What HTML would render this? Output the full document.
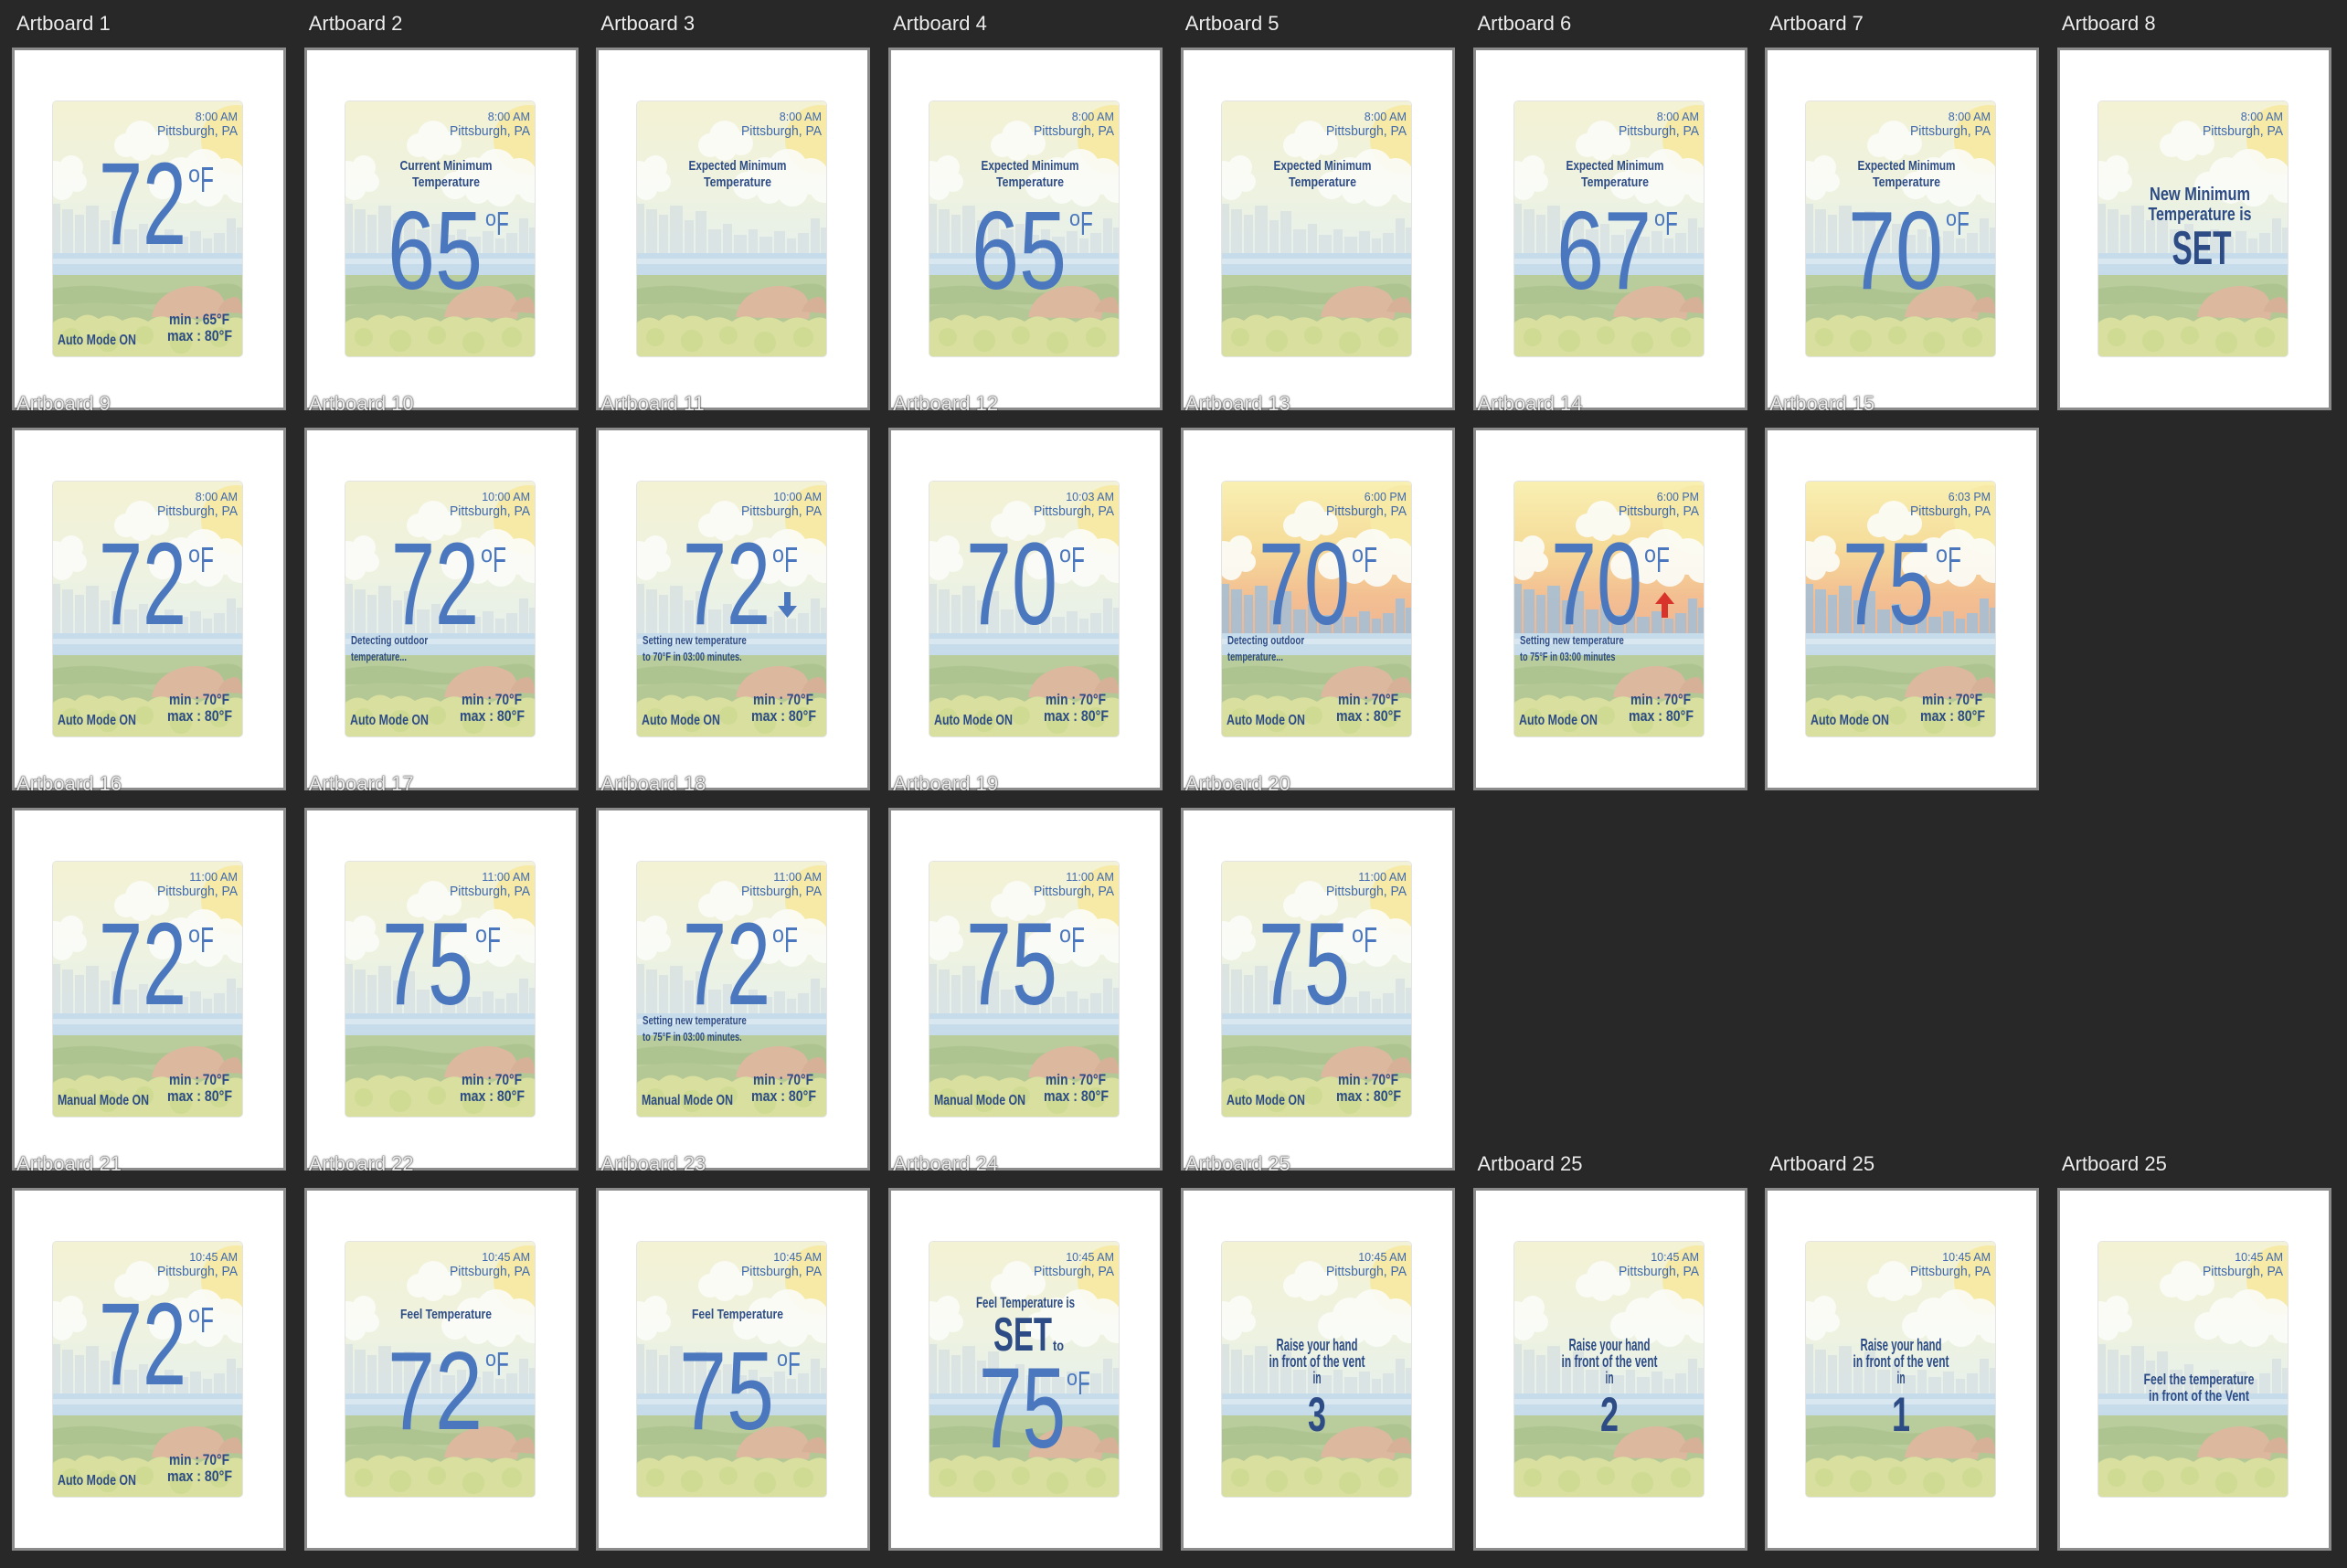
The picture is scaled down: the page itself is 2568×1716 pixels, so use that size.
<!DOCTYPE html>
<html><head><meta charset="utf-8">
<style>
html,body{margin:0;padding:0;}
body{width:2568px;height:1716px;background:#282828;position:relative;overflow:hidden;font-family:"Liberation Sans",sans-serif;}
.box{position:absolute;width:294px;height:391px;border:3px solid #8b8b8b;background:#fff;}
.lbl{position:absolute;font-size:22px;color:#ececec;text-shadow:0 0 2px #222,0 0 1px #222;white-space:nowrap;line-height:22px;}
.img{position:absolute;width:207px;height:279px;border-radius:4px;overflow:hidden;box-shadow:0 0 0 1px #e4e4e4;}
</style></head>
<body>
<svg width="0" height="0" style="position:absolute">
<defs>
<linearGradient id="skyDay" x1="0" y1="0" x2="0" y2="1">
<stop offset="0" stop-color="#f4f2d4"/><stop offset="0.35" stop-color="#eef2e0"/><stop offset="0.62" stop-color="#e6f0ec"/><stop offset="1" stop-color="#e6f0ec"/></linearGradient>
<linearGradient id="skyEve" x1="0" y1="0" x2="0" y2="1">
<stop offset="0" stop-color="#f8f0b2"/><stop offset="0.25" stop-color="#f6dc9a"/><stop offset="0.45" stop-color="#f3bf92"/><stop offset="0.62" stop-color="#f0b592"/><stop offset="1" stop-color="#f0b592"/></linearGradient>
<symbol id="landscape" viewBox="0 0 207 279">
<circle cx="200" cy="42" r="38" fill="#f7e9a6"/>
<g fill="#fbfcf8" opacity="0.92">
<circle cx="80" cy="48" r="13"/><circle cx="96" cy="38" r="17"/><circle cx="114" cy="46" r="13"/><circle cx="96" cy="52" r="13"/>
<circle cx="120" cy="92" r="15"/><circle cx="140" cy="80" r="19"/><circle cx="165" cy="74" r="22"/><circle cx="190" cy="82" r="20"/><circle cx="205" cy="95" r="16"/><circle cx="170" cy="98" r="17"/><circle cx="145" cy="98" r="14"/>
<circle cx="2" cy="82" r="17"/><circle cx="20" cy="72" r="13"/><circle cx="26" cy="88" r="11"/><circle cx="10" cy="96" r="12"/>
</g>
<g style="fill:var(--city);opacity:var(--cityop)">
<rect x="0" y="112" width="8" height="60"/><rect x="10" y="118" width="12" height="55"/><rect x="24" y="124" width="10" height="50"/><rect x="36" y="114" width="14" height="60"/>
<rect x="52" y="130" width="10" height="44"/><rect x="64" y="120" width="12" height="54"/><rect x="78" y="140" width="14" height="34"/><rect x="94" y="134" width="10" height="40"/>
<rect x="106" y="146" width="14" height="28"/><rect x="122" y="140" width="10" height="34"/><rect x="134" y="148" width="14" height="26"/><rect x="150" y="142" width="12" height="32"/>
<rect x="164" y="150" width="10" height="24"/><rect x="176" y="144" width="12" height="30"/><rect x="190" y="128" width="10" height="46"/><rect x="201" y="138" width="6" height="36"/>
</g>
<rect x="0" y="166" width="207" height="26" fill="#c6dcea"/>
<rect x="0" y="172" width="207" height="6" fill="#d9e8f0"/>
<rect x="0" y="190" width="207" height="89" fill="#b8cc9c"/>
<path d="M0 205 Q40 198 80 206 T160 204 T207 206 V222 H0Z" fill="#aec490"/>
<path d="M0 225 Q50 215 100 226 T207 222 V240 H0Z" fill="#b3c895"/>
<path d="M108 236 Q112 212 140 204 Q165 198 182 210 Q192 222 188 238Z" fill="#dcb89f"/>
<path d="M180 230 Q186 214 200 214 Q207 216 207 232Z" fill="#d7b197"/>
<path d="M0 279 V242 Q12 232 24 240 Q36 228 50 238 Q62 230 76 240 Q90 232 104 241 Q118 230 132 240 Q146 232 160 242 Q174 232 188 240 Q198 234 207 238 V279Z" fill="#d8df9f"/>
<g fill="#cdd98f" opacity="0.8"><circle cx="20" cy="258" r="10"/><circle cx="60" cy="262" r="12"/><circle cx="100" cy="256" r="10"/><circle cx="140" cy="264" r="12"/><circle cx="182" cy="258" r="11"/></g>
</symbol>
</defs>
</svg>
<div id="root"></div>
<script>
const SVGNS='http://www.w3.org/2000/svg';
const labels=['Artboard 1','Artboard 2','Artboard 3','Artboard 4','Artboard 5','Artboard 6','Artboard 7','Artboard 8',
'Artboard 9','Artboard 10','Artboard 11','Artboard 12','Artboard 13','Artboard 14','Artboard 15',
'Artboard 16','Artboard 17','Artboard 18','Artboard 19','Artboard 20',
'Artboard 21','Artboard 22','Artboard 23','Artboard 24','Artboard 25','Artboard 25','Artboard 25','Artboard 25'];
const cols=[0,1,2,3,4,5,6,7, 0,1,2,3,4,5,6, 0,1,2,3,4, 0,1,2,3,4,5,6,7];
const rows=[0,0,0,0,0,0,0,0, 1,1,1,1,1,1,1, 2,2,2,2,2, 3,3,3,3,3,3,3,3];
const times=['8:00 AM','8:00 AM','8:00 AM','8:00 AM','8:00 AM','8:00 AM','8:00 AM','8:00 AM',
'8:00 AM','10:00 AM','10:00 AM','10:03 AM','6:00 PM','6:00 PM','6:03 PM',
'11:00 AM','11:00 AM','11:00 AM','11:00 AM','11:00 AM',
'10:45 AM','10:45 AM','10:45 AM','10:45 AM','10:45 AM','10:45 AM','10:45 AM','10:45 AM'];
const kinds=['main','title','title','title','title','title','title','set',
'main','main','main','main','main','main','main',
'main','main','main','main','main',
'main','title','title','feelset','raise','raise','raise','vent'];
const temps=['72','65','','65','','67','70','',
'72','72','72','70','70','70','75',
'72','75','72','75','75',
'72','72','75','75','3','2','1',''];
const titles=['','Current Minimum|Temperature','Expected Minimum|Temperature','Expected Minimum|Temperature','Expected Minimum|Temperature','Expected Minimum|Temperature','Expected Minimum|Temperature','',
'','','','','','','','','','','','','','Feel Temperature','Feel Temperature','','','','',''];
const modes=['Auto Mode ON','','','','','','','',
'Auto Mode ON','Auto Mode ON','Auto Mode ON','Auto Mode ON','Auto Mode ON','Auto Mode ON','Auto Mode ON',
'Manual Mode ON','','Manual Mode ON','Manual Mode ON','Auto Mode ON',
'Auto Mode ON','','','','','','',''];
const mins=['65','','','','','','','','70','70','70','70','70','70','70','70','70','70','70','70','70','','','','','','',''];
const notes=['','','','','','','','',
'','Detecting outdoor|temperature...','Setting new temperature|to 70°F in 03:00 minutes.','','Detecting outdoor|temperature...','Setting new temperature|to 75°F in 03:00 minutes','',
'','','Setting new temperature|to 75°F in 03:00 minutes.','','',
'','','','','','','',''];
const arrows=['','','','','','','','','','','down','','','up','','','','','','','','','','','','','',''];
const evening=[0,0,0,0,0,0,0,0,0,0,0,0,1,1,1,0,0,0,0,0,0,0,0,0,0,0,0,0];

const BLUE='#4a77bd', NAVY='#2d4c86', HEAD='#3f6ab0';
function T(g,name,s,x,y,size,w,anchor,fill,weight){
  const t=document.createElementNS(SVGNS,'text');
  let x0=x; if(anchor==='middle') x0=x-w/2; else if(anchor==='end') x0=x-w;
  t.setAttribute('x',x0);t.setAttribute('y',y);
  t.setAttribute('font-size',size);
  t.setAttribute('font-family','Liberation Sans, sans-serif');
  t.setAttribute('font-weight',weight||'normal');
  t.setAttribute('fill',fill);
  t.setAttribute('textLength',w);
  t.setAttribute('lengthAdjust','spacingAndGlyphs');
  t.textContent=s;
  
  
  g.appendChild(t);return t;
}
function degF(g,x,yF,sizeF){
  T(g,'degree-symbol','o',x,yF-11*sizeF/39,26*sizeF/39,13*sizeF/39,'start',BLUE);
  T(g,'fahrenheit-unit','F',x+13*sizeF/39,yF,sizeF,15*sizeF/39,'start',BLUE);
}
const root=document.getElementById('root');
for(let i=0;i<labels.length;i++){
  const bx=13+cols[i]*319.7, by=52+rows[i]*416;
  const box=document.createElement('div');
  box.className='box';box.style.left=bx+'px';box.style.top=by+'px';
  
  
  root.appendChild(box);
  const im=document.createElement('div');
  im.className='img';im.style.left=(bx+45)+'px';im.style.top=(by+59)+'px';
  
  
  root.appendChild(im);
  const svg=document.createElementNS(SVGNS,'svg');
  svg.setAttribute('width','207');svg.setAttribute('height','279');svg.setAttribute('viewBox','0 0 207 279');
  im.appendChild(svg);
  const bg=document.createElementNS(SVGNS,'rect');
  bg.setAttribute('width','207');bg.setAttribute('height','279');
  bg.setAttribute('fill',evening[i]?'url(#skyEve)':'url(#skyDay)');
  
  
  svg.appendChild(bg);
  const u=document.createElementNS(SVGNS,'use');
  u.setAttribute('href','#landscape');u.setAttribute('width','207');u.setAttribute('height','279');
  
  
  u.setAttribute('style',evening[i]?'--city:#a7bfd4;--cityop:0.9':'--city:#d3dde2;--cityop:0.6');
  svg.appendChild(u);
  const g=document.createElementNS(SVGNS,'g');svg.appendChild(g);
  T(g,'time-label',times[i],202,21,13,times[i].length*6.6,'end',HEAD);
  T(g,'location-label','Pittsburgh, PA',202,37,15,88,'end',HEAD);
  const k=kinds[i];
  if(k==='main'){
    const t=temps[i];const x0=t==='72'?50:40;const w=t==='72'?96:100;
    T(g,'current-temperature',t,x0,156,128,w,'start',BLUE);
    degF(g,x0+w+2,99,39);
    if(modes[i]) T(g,'mode-status',modes[i],5,266,16,modes[i].length>12?100:86,'start',NAVY,'bold');
    if(mins[i]){
      T(g,'min-temperature','min : '+mins[i]+'°F',193,244,17,66,'end',NAVY,'bold');
      T(g,'max-temperature','max : 80°F',196,262,17,71,'end',NAVY,'bold');
    }
    if(notes[i]){
      const ls=notes[i].split('|');
      T(g,'status-message',ls[0],6,178,12.5,ls[0].length*4.95,'start',NAVY,'bold');
      T(g,'status-message',ls[1],6,196,12.5,ls[1].length*4.35,'start',NAVY,'bold');
    }
    if(arrows[i]){
      const p=document.createElementNS(SVGNS,'polygon');
      p.setAttribute('points',arrows[i]==='down'?'161,121 168,121 168,136 175,136 164.5,149 154,136 161,136':'161,149 168,149 168,134 175,134 164.5,121 154,134 161,134');
      p.setAttribute('fill',arrows[i]==='down'?BLUE:'#d9342b');
      
      
      g.appendChild(p);
    }
  } else if(k==='title'){
    const ls=titles[i].split('|');
    if(ls.length===2){
      T(g,'screen-title',ls[0],110,75,15,ls[0].indexOf('Expected')===0?107:101,'middle',NAVY,'bold');
      T(g,'screen-title',ls[1],110,93,15,74,'middle',NAVY,'bold');
    } else {
      T(g,'screen-title',ls[0],110,84,15,100,'middle',NAVY,'bold');
    }
    if(temps[i]){
      T(g,'target-temperature',temps[i],46,205,122,104,'start',BLUE);
      degF(g,153,146,36);
    }
  } else if(k==='set'){
    T(g,'confirmation-text','New Minimum',111,108,20,110,'middle',NAVY,'bold');
    T(g,'confirmation-text','Temperature is',111,130,20,113,'middle',NAVY,'bold');
    T(g,'set-label','SET',113,178,52,65,'middle',NAVY,'bold');
  } else if(k==='feelset'){
    T(g,'confirmation-text','Feel Temperature is',105,72,17,108,'middle',NAVY,'bold');
    T(g,'set-label','SET',70,119,52,64,'start',NAVY,'bold');
    T(g,'to-label','to',135,119,16,12,'start',NAVY,'bold');
    T(g,'feel-temperature',temps[i],54,225,125,95,'start',BLUE);
    degF(g,150,167,36);
  } else if(k==='raise'){
    T(g,'instruction-text','Raise your hand',104,119,18,89,'middle',NAVY,'bold');
    T(g,'instruction-text','in front of the vent',104,137,18,105,'middle',NAVY,'bold');
    T(g,'instruction-text','in',104,155,18,9,'middle',NAVY,'bold');
    T(g,'countdown-number',temps[i],104,207,53,20,'middle',NAVY,'bold');
  } else if(k==='vent'){
    T(g,'instruction-text','Feel the temperature',110,156,17,121,'middle',NAVY,'bold');
    T(g,'instruction-text','in front of the Vent',110,174,17,110,'middle',NAVY,'bold');
  }
}
for(let i=0;i<labels.length;i++){
  const bx=13+cols[i]*319.7, by=52+rows[i]*416;
  const l=document.createElement('div');
  l.className='lbl';l.textContent=labels[i];
  l.style.left=(bx+5)+'px';l.style.top=(by-37)+'px';
  
  
  root.appendChild(l);
}
</script>
</body></html>
